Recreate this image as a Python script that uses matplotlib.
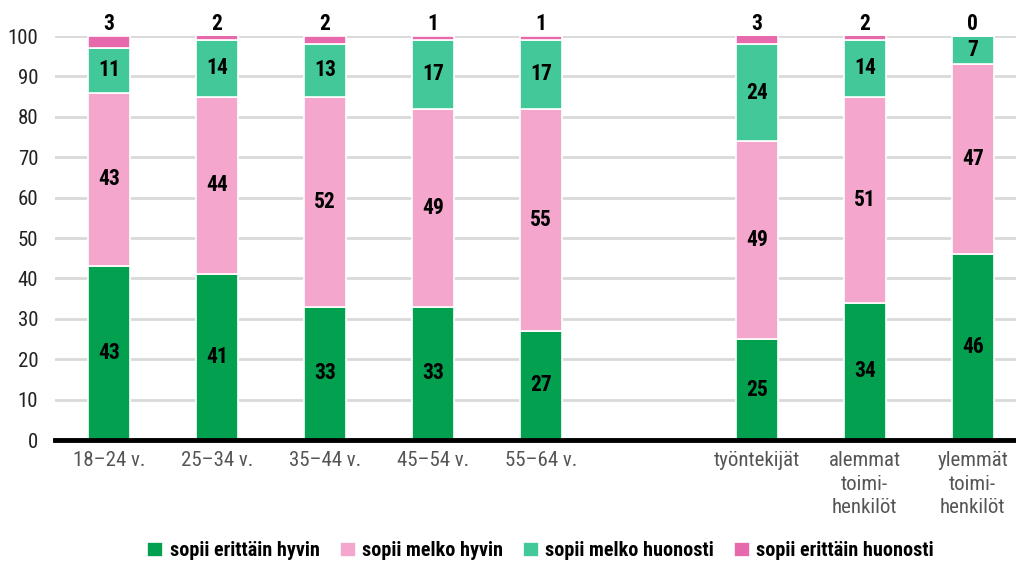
import matplotlib
matplotlib.use("Agg")
import matplotlib.pyplot as plt
from matplotlib import font_manager
import numpy as np

categories = ["18–24 v.", "25–34 v.", "35–44 v.", "45–54 v.", "55–64 v.", "",
              "työntekijät", "alemmat\ntoimi-\nhenkilöt", "ylemmät\ntoimi-\nhenkilöt"]
series_names = ["sopii erittäin hyvin", "sopii melko hyvin", "sopii melko huonosti", "sopii erittäin huonosti"]
erittain_hyvin = [43, 41, 33, 33, 27, None, 25, 34, 46]
melko_hyvin = [43, 44, 52, 49, 55, None, 49, 51, 47]
melko_huonosti = [11, 14, 13, 17, 17, None, 24, 14, 7]
erittain_huonosti = [3, 2, 2, 1, 1, None, 3, 2, 0]
colors = ["#03a050", "#f4a6cc", "#43c89a", "#e868ac"]

names = {f.name for f in font_manager.fontManager.ttflist}
fam = [f for f in ["Liberation Sans Narrow", "Roboto Condensed", "Open Sans Condensed", "Roboto", "DejaVu Sans"] if f in names]
plt.rcParams['font.family'] = fam

fig = plt.figure(figsize=(10.16, 5.61), dpi=100)
ax = fig.add_axes([55/1016, (561-440)/561, 1-55/1016, (440-36)/561])

series = [erittain_hyvin, melko_hyvin, melko_huonosti, erittain_huonosti]
x = np.arange(len(categories))
bottom = np.zeros(len(categories))
width = 0.39
for k, (vals, col, nm) in enumerate(zip(series, colors, series_names)):
    v = np.array([np.nan if a is None else a for a in vals], dtype=float)
    vv = np.nan_to_num(v)
    ax.bar(x, vv, width, bottom=bottom, color=col, edgecolor="white", linewidth=1.2, label=nm, zorder=3)
    for i in range(len(x)):
        if np.isnan(v[i]):
            continue
        if k < 3:
            ax.text(x[i], bottom[i] + vv[i] / 2, f"{int(v[i])}", ha="center", va="center",
                    fontsize=15.5, fontweight="bold", color="black", zorder=4)
        else:
            ax.text(x[i], 100.3, f"{int(v[i])}", ha="center", va="bottom",
                    fontsize=15.5, fontweight="bold", color="black", clip_on=False, zorder=4)
    bottom += vv

ax.set_xlim(-0.5, 8.4)
ax.set_ylim(0, 100)
ax.set_yticks(range(0, 101, 10))
ax.yaxis.grid(True, color="#d9d9d9", linewidth=2, zorder=0)
ax.set_axisbelow(True)
for s in ["top", "right", "left"]:
    ax.spines[s].set_visible(False)
ax.spines["bottom"].set_linewidth(3.5)
ax.spines["bottom"].set_color("black")
ax.spines["bottom"].set_zorder(5)
ax.tick_params(axis="y", length=0, labelsize=15, pad=12, labelcolor="#222222")
ax.tick_params(axis="x", length=0, labelsize=15, pad=8, labelcolor="#555555")
ax.set_xticks(x)
ax.set_xticklabels(categories, linespacing=1.3)

handles, labels = ax.get_legend_handles_labels()
leg = fig.legend(handles, labels, loc="center", bbox_to_anchor=(0.532, 0.018), ncol=4, frameon=False,
                 prop={"size": 14.5, "weight": "bold"}, handlelength=0.8, handleheight=0.8,
                 handletextpad=0.3, columnspacing=1.0)

fig.savefig("out.png", dpi=100)
